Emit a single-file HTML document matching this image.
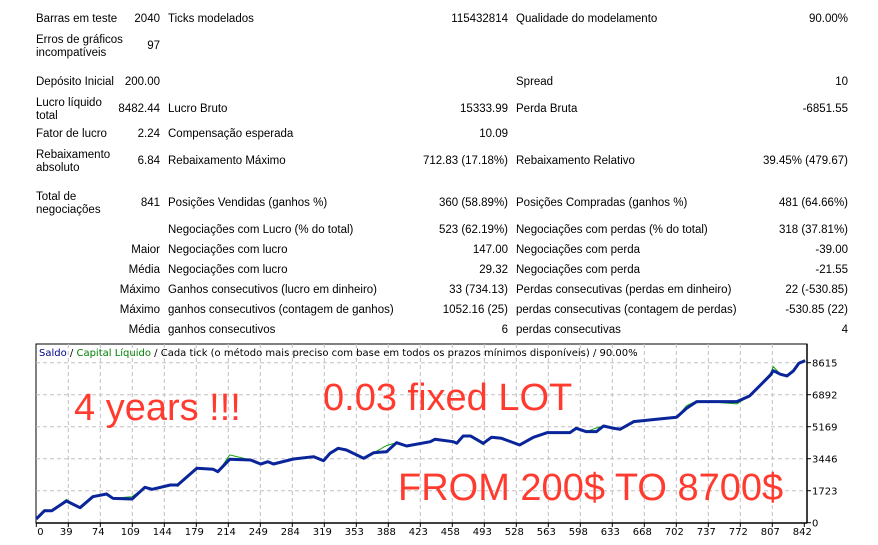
<!DOCTYPE html>
<html><head><meta charset="utf-8"><style>
body{margin:0;width:878px;height:545px;background:#fff;position:relative;overflow:hidden;font-family:"Liberation Sans",sans-serif;font-size:11.5px;color:#000}
.t{position:absolute;white-space:nowrap;line-height:13px}
.r{text-align:right}
</style></head><body>
<div id="stats"></div>
<svg id="chart" width="878" height="545" style="position:absolute;left:0;top:0"></svg>
<script>
// ---- stats table rows: [text, x, y, align, width]
const cells=[
["Barras em teste",36,13,"l"],["2040",60,13,"r"],["Ticks modelados",168,13,"l"],["115432814",408,13,"r"],["Qualidade do modelamento",516,13,"l"],["90.00%",748,13,"r"],
["Erros de gráficos<br>incompatíveis",36,34,"l"],["97",60,40,"r"],
["Depósito Inicial",36,76,"l"],["200.00",60,76,"r"],["Spread",516,76,"l"],["10",748,76,"r"],
["Lucro líquido<br>total",36,97,"l"],["8482.44",60,103,"r"],["Lucro Bruto",168,103,"l"],["15333.99",408,103,"r"],["Perda Bruta",516,103,"l"],["-6851.55",748,103,"r"],
["Fator de lucro",36,128,"l"],["2.24",60,128,"r"],["Compensação esperada",168,128,"l"],["10.09",408,128,"r"],
["Rebaixamento<br>absoluto",36,149,"l"],["6.84",60,155,"r"],["Rebaixamento Máximo",168,155,"l"],["712.83 (17.18%)",408,155,"r"],["Rebaixamento Relativo",516,155,"l"],["39.45% (479.67)",748,155,"r"],
["Total de<br>negociações",36,191,"l"],["841",60,197,"r"],["Posições Vendidas (ganhos %)",168,197,"l"],["360 (58.89%)",408,197,"r"],["Posições Compradas (ganhos %)",516,197,"l"],["481 (64.66%)",748,197,"r"],
["Negociações com Lucro (% do total)",168,224,"l"],["523 (62.19%)",408,224,"r"],["Negociações com perdas (% do total)",516,224,"l"],["318 (37.81%)",748,224,"r"],
["Maior",60,244,"r"],["Negociações com lucro",168,244,"l"],["147.00",408,244,"r"],["Negociações com perda",516,244,"l"],["-39.00",748,244,"r"],
["Média",60,264,"r"],["Negociações com lucro",168,264,"l"],["29.32",408,264,"r"],["Negociações com perda",516,264,"l"],["-21.55",748,264,"r"],
["Máximo",60,284,"r"],["Ganhos consecutivos (lucro em dinheiro)",168,284,"l"],["33 (734.13)",408,284,"r"],["Perdas consecutivas (perdas em dinheiro)",516,284,"l"],["22 (-530.85)",748,284,"r"],
["Máximo",60,304,"r"],["ganhos consecutivos (contagem de ganhos)",168,304,"l"],["1052.16 (25)",408,304,"r"],["perdas consecutivas (contagem de perdas)",516,304,"l"],["-530.85 (22)",748,304,"r"],
["Média",60,324,"r"],["ganhos consecutivos",168,324,"l"],["6",408,324,"r"],["perdas consecutivas",516,324,"l"],["4",748,324,"r"]
];
const st=document.getElementById('stats');
cells.forEach(c=>{const d=document.createElement('div');


d.className='t'+(c[3]=='r'?' r':'');d.style.left=c[1]+'px';d.style.top=c[2]+'px';if(c[3]=='r')d.style.width='100px';d.innerHTML=c[0];st.appendChild(d);});

// ---- chart data
const xTickLabels=[0,39,74,109,144,179,214,249,284,319,353,388,423,458,493,528,563,598,633,668,702,737,772,807,842];
const yTickLabels=[0,1723,3446,5169,6892,8615];
const trades=[0,9,17,33,48,62,77,84,105,119,127,147,155,176,194,199,212,235,246,254,260,282,304,315,322,331,340,359,370,384,395,406,432,437,457,461,468,476,490,499,510,530,545,560,585,592,603,614,622,633,640,655,680,702,713,724,768,782,805,808,816,823,830,836,843];
const balance=[200,646,646,1168,808,1400,1545,1313,1276,1906,1798,2030,2030,2929,2875,2746,3414,3376,3160,3284,3160,3430,3554,3338,3737,4006,3915,3467,3769,3823,4308,4130,4362,4491,4362,4276,4669,4669,4276,4599,4545,4184,4599,4847,4847,5084,4901,4901,5208,5084,5030,5440,5569,5677,6162,6517,6517,6824,7954,8185,7991,7900,8169,8583,8723];
const equity=[200,700,646,1250,808,1450,1545,1313,1400,1906,1798,2080,1950,2980,2875,2700,3650,3376,3160,3284,3160,3430,3554,3338,3737,4006,3915,3467,3769,4150,4308,4130,4362,4491,4362,4276,4669,4669,4200,4599,4545,4184,4599,4847,4800,5084,4901,5100,5208,5040,5030,5500,5569,5677,6300,6560,6400,6824,8050,8400,7991,7850,8250,8583,8723];

const svg=document.getElementById('chart');const NS='http://www.w3.org/2000/svg';
const L=36,R=807,T=344,B=523;
const x0=36.3,xT=(804.3-36.3)/842, y0=522.7, yS=32/1723;
const xs=v=>x0+v*xT, ys=v=>y0-v*yS;
function el(tag,a,name){const e=document.createElementNS(NS,tag);for(const k in a)e.setAttribute(k,a[k]);


svg.appendChild(e);return e;}
el('rect',{x:L,y:T,width:R-L,height:B-T,fill:'#fff',stroke:'#000','stroke-width':1},'plot-frame');
yTickLabels.forEach((v,i)=>{const y=ys(v);
 if(i>0){const g=el('line',{x1:L,x2:R,y1:y,y2:y,stroke:'#c0c0c0','stroke-dasharray':'4,3'},'y-gridline');}
 el('line',{x1:R,x2:R+4,y1:y,y2:y,stroke:'#000'},'y-tick');
 const t=el('text',{x:R+5,y:y+4,'font-size':10,'font-family':'DejaVu Sans, sans-serif'},'y-tick-label');t.textContent=v;});
xTickLabels.forEach((v,i)=>{const x=x0+i*32;
 if(i>0&&i<24){el('line',{x1:x,x2:x,y1:T,y2:B,stroke:'#c0c0c0','stroke-dasharray':'4,3'},'x-gridline');}
 el('line',{x1:x,x2:x,y1:B,y2:B+4,stroke:'#000'},'x-tick');
 const t=el('text',{x:i==0?x+1:x-2,y:B+12,'font-size':10,'text-anchor':i==0?'start':'middle','font-family':'DejaVu Sans, sans-serif'},'x-tick-label');t.textContent=v;});
el('line',{x1:L,x2:R,y1:B,y2:B,stroke:'#000','stroke-width':1.5},'x-axis');
el('line',{x1:R,x2:R,y1:T,y2:B,stroke:'#000','stroke-width':1.5},'y-axis');
const title=el('text',{x:L+3,y:T+12,'font-size':10,'font-family':'DejaVu Sans, sans-serif'},'chart-title');
title.innerHTML='<tspan fill="#00008b">Saldo</tspan> / <tspan fill="#008000">Capital Líquido</tspan> / Cada tick (o método mais preciso com base em todos os prazos mínimos disponíveis) / 90.00%';
el('polyline',{points:trades.map((t,i)=>xs(t)+','+ys(equity[i])).join(' '),fill:'none',stroke:'#10a010','stroke-width':1},'equity-line');
el('polyline',{points:trades.map((t,i)=>xs(t)+','+ys(balance[i])).join(' '),fill:'none',stroke:'#0a249a','stroke-width':3,'stroke-linejoin':'round'},'balance-line');
const ann=[["4 years !!!",74,420,'annotation-years'],["0.03 fixed LOT",323,410,'annotation-lot'],["FROM 200$ TO 8700$",398,500,'annotation-growth']];
ann.forEach(a=>{const t=el('text',{x:a[1],y:a[2],'font-size':38,fill:'#ff3b30','font-family':'Liberation Sans, sans-serif'},a[3]);t.textContent=a[0];});
</script>
</body></html>
